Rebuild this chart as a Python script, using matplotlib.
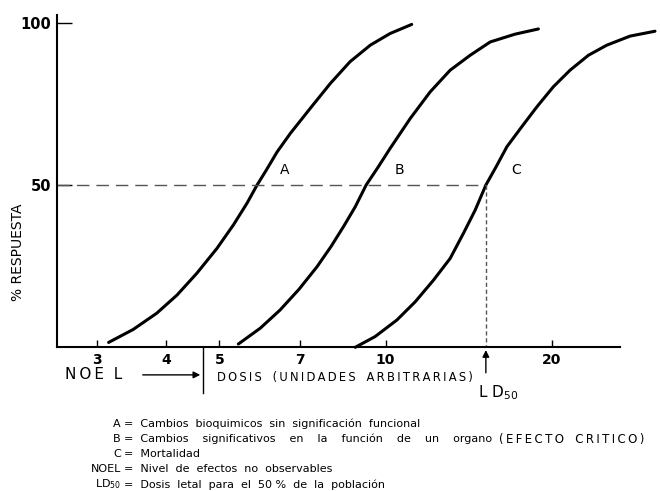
import matplotlib
matplotlib.use("Agg")
import matplotlib.pyplot as plt
from matplotlib.ticker import FixedLocator, NullLocator

# values (dose on a log axis, % response)
dose_a = [3.15, 3.49, 3.85, 4.19, 4.55, 4.95, 5.30, 5.61, 5.85, 6.08,
          6.36, 6.72, 7.30, 7.94, 8.62, 9.38, 10.19, 11.15]
resp_a = [1.5, 5.5, 10.5, 16.1, 22.8, 30.5, 37.7, 44.4, 50.0, 54.6,
          60.2, 65.9, 73.6, 81.3, 88.0, 93.1, 96.7, 99.5]
dose_b = [5.41, 5.93, 6.44, 6.97, 7.51, 7.96, 8.39, 8.81, 9.22, 9.69,
          10.19, 11.08, 12.04, 13.09, 14.23, 15.47, 17.16, 18.91]
resp_b = [1.0, 5.9, 11.5, 17.9, 24.8, 31.0, 37.2, 43.3, 50.0, 55.5,
          61.3, 70.5, 78.7, 85.4, 90.0, 94.1, 96.5, 98.1]
dose_c = [8.81, 9.57, 10.48, 11.31, 12.21, 13.09, 13.83, 14.53, 15.19, 15.85,
          16.58, 17.65, 18.79, 20.13, 21.58, 23.30, 25.15, 27.72, 30.75]
resp_c = [0.0, 3.3, 8.4, 14.0, 20.7, 27.4, 35.1, 42.3, 50.0, 55.6,
          61.8, 68.0, 74.1, 80.3, 85.4, 90.0, 93.1, 95.9, 97.4]

curve_names = ["A", "B", "C"]
name_pos = [(6.55, 54.6), (10.58, 54.6), (17.2, 54.6)]

xticks = [3, 4, 5, 7, 10, 20]
yticks = [50, 100]
noel = 4.67
ld50 = 15.19

keys = ["A", "B", "C", "NOEL", "LD$_{50}$"]
descr = ["Cambios  bioquimicos  sin  significación  funcional",
         "Cambios    significativos    en    la    función    de    un    organo",
         "Mortalidad",
         "Nivel  de  efectos  no  observables",
         "Dosis  letal  para  el  50 %  de  la  población"]
critico = ["(EFECTO", "CRITICO)"]


def spaced(s):
    # loose letter spacing like the typeset original
    return "\u2009".join(s)


W, H = 660, 491
fig = plt.figure(figsize=(W / 100, H / 100), dpi=100)
ax = fig.add_axes([57 / W, (H - 347.3) / H, 603 / W, 332.3 / H])

ax.set_xscale("log")
ax.set_xlim(2.54, 31.4)
ax.set_ylim(0, 102.4)

for d, r in [(dose_a, resp_a), (dose_b, resp_b), (dose_c, resp_c)]:
    ax.plot(d, r, color="black", lw=2.2, solid_capstyle="round",
            solid_joinstyle="round", clip_on=False)

for name, (x, y) in zip(curve_names, name_pos):
    ax.text(x, y, name, fontsize=10, ha="center", va="center")

# 50 % reference lines
ax.plot([2.54, ld50], [50, 50], color="#555555", lw=1.0, dashes=(9, 5))
ax.plot([ld50, ld50], [50, 0], color="#555555", lw=1.0, dashes=(3, 2))

for s in ["top", "right"]:
    ax.spines[s].set_visible(False)
ax.spines["left"].set_linewidth(1.5)
ax.spines["bottom"].set_linewidth(1.5)
ax.spines["bottom"].set_bounds(2.54, 26.6)

ax.xaxis.set_major_locator(FixedLocator(xticks))
ax.xaxis.set_minor_locator(NullLocator())
ax.set_xticklabels([str(t) for t in xticks])
ax.set_yticks(yticks)
ax.tick_params(axis="x", direction="in", length=5, width=1, pad=4, labelsize=10)
ax.tick_params(axis="y", direction="in", length=11, width=1, pad=4, labelsize=10.5)
for lab in ax.get_xticklabels() + ax.get_yticklabels():
    lab.set_fontweight("bold")

fig.text(18 / W, (H - 252) / H, "% RESPUESTA", rotation=90, fontsize=10,
         ha="center", va="center")

# NOEL marker and arrow
tr = ax.get_xaxis_transform()
ax.plot([noel, noel], [0, -0.1375], transform=tr, color="black", lw=1.0, clip_on=False)
ax.annotate("", xy=(noel, -0.083), xytext=(3.59, -0.083), xycoords=tr, textcoords=tr,
            arrowprops=dict(arrowstyle="-|>", color="black", lw=1.0, mutation_scale=10))
ax.text(2.63, -0.083, spaced("NOE") + "  L", transform=tr, fontsize=11,
        ha="left", va="center")
ax.text(4.95, -0.09, spaced("DOSIS") + "   " + spaced("(UNIDADES") + "   " + spaced("ARBITRARIAS)"),
        transform=tr, fontsize=8.3, ha="left", va="center")

# LD50 arrow
ax.annotate("", xy=(ld50, 0), xytext=(ld50, -0.085), xycoords=tr, textcoords=tr,
            arrowprops=dict(arrowstyle="-|>", color="black", lw=1.0, mutation_scale=10))
ax.text(16.0, -0.135, "L D$_{50}$", transform=tr, fontsize=11, ha="center", va="center")

# key below the chart
for i, (k, t) in enumerate(zip(keys, descr)):
    y = (H - (424 + 15.1 * i)) / H
    fig.text(121 / W, y, k, fontsize=8, ha="right", va="center")
    fig.text(124 / W, y, "=  " + t, fontsize=8, ha="left", va="center")
fig.text(499 / W, (H - 439.1) / H, "   ".join(spaced(w) for w in critico),
         fontsize=8.5, ha="left", va="center")

fig.savefig("out.png", dpi=100)
